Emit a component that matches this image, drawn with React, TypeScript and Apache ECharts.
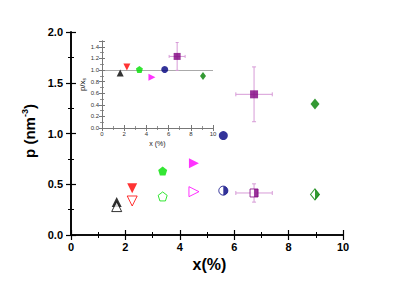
import React, { useEffect, useRef } from "react";
import * as echarts from "echarts";

// Main plot data: x (%) and p (nm^-3)
const xMain = [1.68, 2.25, 3.37, 4.52, 5.6, 6.73, 8.97];
const pFilled = [0.325, 0.46, 0.63, 0.706, 0.98, 1.386, 1.29];
const pOpen = [0.28, 0.335, 0.38, 0.427, 0.437, 0.414, 0.4];
// error bars (purple square): [x, p, xErr, pErr]
const errFilled = [[6.73, 1.386, 0.67, 0.27]];
const errOpen = [[6.73, 0.414, 0.67, 0.09]];

// Inset data: x (%) and p/x_s
const xInset = [1.64, 2.24, 3.37, 4.5, 5.65, 6.77, 9.1];
const ratioInset = [0.947, 1.05, 1.01, 0.873, 1.01, 1.234, 0.895];
const errInset = [[6.77, 1.234, 0.72, 0.24]];
const refLine = 1.0;

const colors = ["#000000", "#ff0000", "#00e000", "#ff00ff", "#000080", "#800080", "#008000"];
const PENT = "path://M0,-1 L0.951,-0.309 L0.588,0.809 L-0.588,0.809 L-0.951,-0.309 Z";
const symbols = ["triangle", "triangle", PENT, "triangle", "circle", "rect", "diamond"];
const rotations = [0, 180, 0, -90, 0, 0, 0];
const sizes: any[] = [10, 10, 9, 10, 9, 8, [9, 11]];
const insetSizes: any[] = [7, 7, 7, 7, 7, 7, [6, 8]];
const halfPaths = [
  "",
  "",
  "",
  "",
  "path://M0,0 A1,1 0 0,1 0,2 Z",
  "path://M0,0 L1,0 L1,2 L0,2 Z",
  "path://M0,0 L1,1 L0,2 Z",
];

const FONT = "Liberation Sans, Arial, sans-serif";
const ERR_COLOR = "#d79bd7";

function errSeries(data: number[][], xAxisIndex: number, yAxisIndex: number, cap: number, z: number) {
  return {
    type: "custom",
    xAxisIndex,
    yAxisIndex,
    z,
    data,
    renderItem: (params: any, api: any) => {
      const x = api.value(0), y = api.value(1), ex = api.value(2), ey = api.value(3);
      const l = api.coord([x - ex, y]);
      const r = api.coord([x + ex, y]);
      const t = api.coord([x, y + ey]);
      const b = api.coord([x, y - ey]);
      const st = { stroke: ERR_COLOR, lineWidth: 1 };
      const ln = (x1: number, y1: number, x2: number, y2: number) => ({
        type: "line",
        shape: { x1, y1, x2, y2 },
        style: st,
      });
      return {
        type: "group",
        children: [
          ln(l[0], l[1], r[0], r[1]),
          ln(t[0], t[1], b[0], b[1]),
          ln(l[0], l[1] - cap, l[0], l[1] + cap),
          ln(r[0], r[1] - cap, r[0], r[1] + cap),
          ln(t[0] - cap, t[1], t[0] + cap, t[1]),
          ln(b[0] - cap, b[1], b[0] + cap, b[1]),
        ],
      };
    },
  };
}

export default function App() {
  const ref = useRef<HTMLDivElement>(null);
  useEffect(() => {
    if (!ref.current) return;
    const chart = echarts.init(ref.current, null, { renderer: "svg" });

    const mainAxisLine = { show: true, lineStyle: { color: "#000", width: 1.6 } };
    const mainTick = { show: true, inside: true, length: 5, lineStyle: { color: "#000", width: 1.2 } };
    const mainMinor = { show: true, splitNumber: 2, length: 3, lineStyle: { color: "#000", width: 1 } };
    const mainLabel = { fontFamily: FONT, fontWeight: "bold", fontSize: 11, color: "#000" };

    const inAxisLine = { show: true, lineStyle: { color: "#777", width: 1 } };
    const inTick = { show: true, inside: true, length: 3, lineStyle: { color: "#777", width: 1 } };
    const inMinor = { show: true, splitNumber: 2, length: 2, lineStyle: { color: "#777", width: 0.8 } };
    const inLabel = { fontFamily: FONT, fontSize: 6, color: "#333" };

    const series: any[] = [];
    series.push(errSeries(errFilled, 0, 0, 2, 2));
    series.push(errSeries(errOpen, 0, 0, 2, 2));
    xMain.forEach((x, i) => {
      series.push({
        type: "scatter",
        xAxisIndex: 0,
        yAxisIndex: 0,
        z: 3,
        symbol: symbols[i],
        symbolRotate: rotations[i],
        symbolSize: sizes[i],
        itemStyle: { color: colors[i] },
        data: [[x, pFilled[i]]],
      });
      series.push({
        type: "scatter",
        xAxisIndex: 0,
        yAxisIndex: 0,
        z: 3,
        symbol: symbols[i],
        symbolRotate: rotations[i],
        symbolSize: sizes[i],
        itemStyle: { color: "#ffffff", borderColor: colors[i], borderWidth: 1 },
        data: [[x, pOpen[i]]],
      });
      if (halfPaths[i]) {
        const s = sizes[i];
        const w = Array.isArray(s) ? s[0] : s;
        const h = Array.isArray(s) ? s[1] : s;
        series.push({
          type: "scatter",
          xAxisIndex: 0,
          yAxisIndex: 0,
          z: 4,
          symbol: halfPaths[i],
          symbolSize: [w / 2, h],
          symbolOffset: [w / 4, 0],
          itemStyle: { color: colors[i] },
          data: [[x, pOpen[i]]],
        });
      }
    });
    // inset
    series.push({
      type: "line",
      xAxisIndex: 2,
      yAxisIndex: 2,
      z: 6,
      data: [],
      markLine: {
        silent: true,
        symbol: "none",
        label: { show: false },
        lineStyle: { color: "#aaaaaa", width: 1, type: "solid" },
        data: [{ yAxis: refLine }],
      },
    });
    series.push(errSeries(errInset, 2, 2, 1.5, 6));
    xInset.forEach((x, i) => {
      series.push({
        type: "scatter",
        xAxisIndex: 2,
        yAxisIndex: 2,
        z: 7,
        symbol: symbols[i],
        symbolRotate: rotations[i],
        symbolSize: insetSizes[i],
        itemStyle: { color: colors[i] },
        data: [[x, ratioInset[i]]],
      });
    });

    chart.setOption({
      animation: false,
      backgroundColor: "#ffffff",
      grid: [
        { left: 71, right: 56, top: 32, bottom: 47, containLabel: false },
        {
          left: 102,
          right: 186,
          top: 41,
          bottom: 154,
          show: true,
          backgroundColor: "#ffffff",
          borderWidth: 0,
        },
      ],
      xAxis: [
        {
          type: "value",
          gridIndex: 0,
          min: 0,
          max: 10,
          interval: 2,
          axisLine: mainAxisLine,
          axisTick: mainTick,
          minorTick: mainMinor,
          splitLine: { show: false },
          axisLabel: { ...mainLabel, margin: 6 },
          name: "x(%)",
          nameLocation: "middle",
          nameGap: 20,
          nameTextStyle: { fontFamily: FONT, fontWeight: "bold", fontSize: 16, color: "#000", padding: [0, 0, 0, 5] },
        },
        {
          type: "value",
          gridIndex: 0,
          position: "top",
          min: 0,
          max: 10,
          interval: 2,
          axisLine: mainAxisLine,
          axisTick: mainTick,
          minorTick: mainMinor,
          splitLine: { show: false },
          axisLabel: { show: false },
        },
        {
          type: "value",
          gridIndex: 1,
          min: 0,
          max: 10,
          interval: 2,
          z: 8,
          axisLine: inAxisLine,
          axisTick: inTick,
          minorTick: inMinor,
          splitLine: { show: false },
          axisLabel: { ...inLabel, margin: 3 },
          name: "x (%)",
          nameLocation: "middle",
          nameGap: 12,
          nameTextStyle: { fontFamily: FONT, fontSize: 7, color: "#222" },
        },
        {
          type: "value",
          gridIndex: 1,
          position: "top",
          min: 0,
          max: 10,
          interval: 2,
          z: 8,
          axisLine: inAxisLine,
          axisTick: inTick,
          minorTick: inMinor,
          splitLine: { show: false },
          axisLabel: { show: false },
        },
      ],
      yAxis: [
        {
          type: "value",
          gridIndex: 0,
          min: 0,
          max: 2,
          interval: 0.5,
          axisLine: mainAxisLine,
          axisTick: mainTick,
          minorTick: mainMinor,
          splitLine: { show: false },
          axisLabel: { ...mainLabel, margin: 8, formatter: (v: number) => v.toFixed(1) },
          name: "{a|p (nm}{s|-3}{a|)}",
          nameLocation: "middle",
          nameGap: 28,
          nameTextStyle: {
            padding: [0, 0, 0, 5],
            rich: {
              a: { fontFamily: FONT, fontWeight: "bold", fontSize: 15, color: "#000" },
              s: { fontFamily: FONT, fontWeight: "bold", fontSize: 9, color: "#000", verticalAlign: "top", padding: [0, 0, 8, 0] },
            },
          },
        },
        {
          type: "value",
          gridIndex: 0,
          position: "right",
          min: 0,
          max: 2,
          interval: 0.5,
          axisLine: mainAxisLine,
          axisTick: mainTick,
          minorTick: mainMinor,
          splitLine: { show: false },
          axisLabel: { show: false },
        },
        {
          type: "value",
          gridIndex: 1,
          min: 0,
          max: 1.5,
          interval: 0.2,
          z: 8,
          axisLine: inAxisLine,
          axisTick: inTick,
          minorTick: inMinor,
          splitLine: { show: false },
          axisLabel: { ...inLabel, margin: 3, showMaxLabel: false, formatter: (v: number) => v.toFixed(1) },
          name: "{a|p/x}{s|s}",
          nameLocation: "middle",
          nameGap: 14,
          nameTextStyle: {
            rich: {
              a: { fontFamily: FONT, fontSize: 8, color: "#222" },
              s: { fontFamily: FONT, fontSize: 5, color: "#222", verticalAlign: "bottom", padding: [4, 0, 0, 0] },
            },
          },
        },
        {
          type: "value",
          gridIndex: 1,
          position: "right",
          min: 0,
          max: 1.5,
          interval: 0.2,
          z: 8,
          axisLine: inAxisLine,
          axisTick: inTick,
          minorTick: inMinor,
          splitLine: { show: false },
          axisLabel: { show: false },
        },
      ],
      series,
    });
    return () => chart.dispose();
  }, []);
  return <div ref={ref} style={{ position: "absolute", left: 0, top: 0, width: 399, height: 282 }} />;
}
